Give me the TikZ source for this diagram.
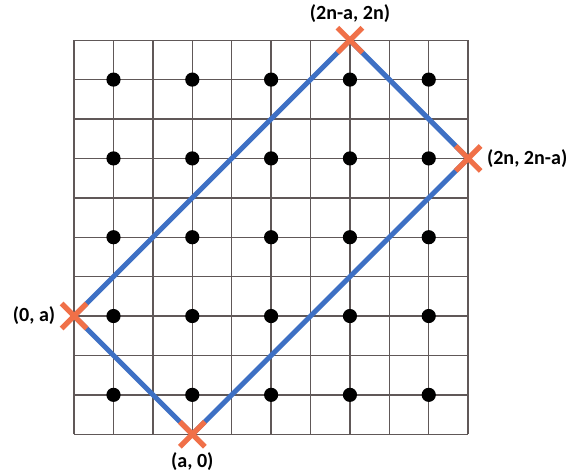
\documentclass[tikz,border=0pt]{standalone}
\usepackage{fontspec}
\setmainfont{Carlito}
\usepackage{xcolor}
\usetikzlibrary{shapes.misc}
\usetikzlibrary{positioning}

\definecolor{gridgray}{RGB}{96,88,88}
\definecolor{rectblue}{RGB}{62,112,196}
\definecolor{xorange}{RGB}{240,112,72}

\tikzset{
  gridline/.style={draw=gridgray, line width=1pt},
  side/.style={draw=rectblue, line width=3.6pt},
  xmark/.style={cross out, draw=xorange, line width=3.8pt, minimum size=0.5cm, inner sep=0pt},
  lbl/.style={font=\fontsize{14.5}{17}\selectfont\bfseries, inner sep=1pt}
}

\begin{document}
\begin{tikzpicture}
  \useasboundingbox (-1.88,-0.96) rectangle (12.61,11.02);
  \draw[gridline] (0,0) grid (10,10);
  \foreach \i in {1,3,...,9}
    \foreach \j in {1,3,...,9}
      \fill (\i,\j) circle (0.18);
  % corners of the rectangle
  \coordinate (A) at (3,0);
  \coordinate (B) at (10,7);
  \coordinate (C) at (7,10);
  \coordinate (D) at (0,3);
  \draw[side] (A) -- (B) -- (C) -- (D) -- cycle;
  \node[xmark] (xA) at (A) {};
  \node[xmark] (xB) at (B) {};
  \node[xmark] (xC) at (C) {};
  \node[xmark] (xD) at (D) {};
  \node[lbl, below=0.1cm of xA] (lA) {(a, 0)};
  \node[lbl, right=0.12cm of xB] (lB) {(2n, 2n-a)};
  \node[lbl, above=0.1cm of xC] (lC) {(2n-a, 2n)};
  \node[lbl, left=0.12cm of xD] (lD) {(0, a)};
\end{tikzpicture}
\end{document}
